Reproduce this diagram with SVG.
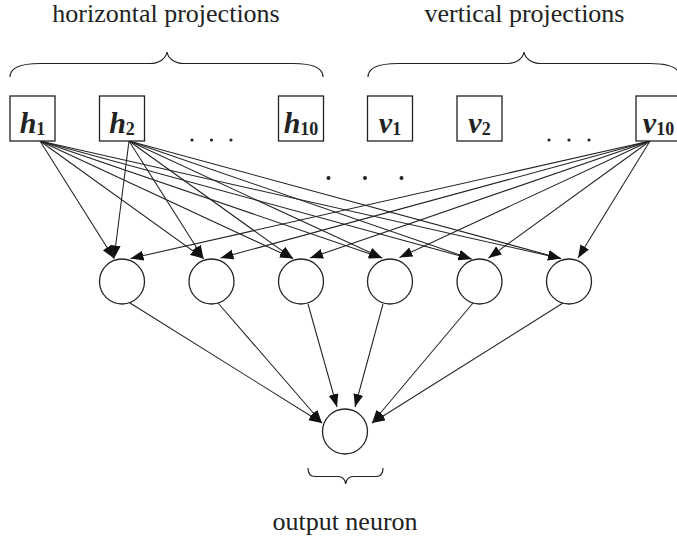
<svg xmlns="http://www.w3.org/2000/svg" width="677" height="538" viewBox="0 0 677 538">
  <style>
    .box { fill: #fff; stroke: #222; stroke-width: 1.3; }
    .neuron { fill: #fff; stroke: #222; stroke-width: 1.3; }
    .edge { stroke: #222; stroke-width: 1.05; fill: none; marker-end: url(#arrow); }
    .brace { fill: none; stroke: #222; stroke-width: 1.2; }
    .title { font-family: "Liberation Serif", "Times New Roman", serif; font-size: 26px; fill: #222; text-anchor: middle; }
    .lbl { font-family: "Liberation Serif", "Times New Roman", serif; fill: #222; text-anchor: middle; font-weight: bold; }
    .var { font-style: italic; font-size: 30px; }
    .sub { font-size: 18px; }
    .dot { fill: #222; }
  </style>
  <defs>
    <marker id="arrow" markerUnits="userSpaceOnUse" markerWidth="14" markerHeight="11" refX="13" refY="5" orient="auto">
      <path d="M0,0 L13,5 L0,10 Z" fill="#111"/>
    </marker>
  </defs>

  <rect width="677" height="538" fill="#fff"/>

  <!-- group titles and braces -->
  <g id="horizontal-group">
    <text class="title" x="166" y="22">horizontal projections</text>
    <path class="brace" d="M10,77 C10,68 20,63.5 40,63.5 L150,63.5 C160,63.5 166,58 167,52 C168,58 174,63.5 184,63.5 L293,63.5 C313,63.5 323,68 323,77"/>
  </g>
  <g id="vertical-group">
    <text class="title" x="524.5" y="22">vertical projections</text>
    <path class="brace" d="M368,77 C368,68 378,63.5 398,63.5 L507,63.5 C517,63.5 523,58 524,52 C525,58 531,63.5 541,63.5 L650,63.5 C670,63.5 680,68 680,77"/>
  </g>

  <!-- connectors -->
  <g id="connectors">
    <!-- h1 to hidden layer -->
    <line class="edge" x1="40" y1="141" x2="114" y2="258.5"/>
    <line class="edge" x1="40" y1="141" x2="203.5" y2="258.5"/>
    <line class="edge" x1="40" y1="141" x2="293" y2="258.5"/>
    <line class="edge" x1="40" y1="141" x2="382" y2="258"/>
    <line class="edge" x1="40" y1="141" x2="471.5" y2="259"/>
    <line class="edge" x1="40" y1="141" x2="561" y2="258.5"/>
    <!-- h2 to hidden layer -->
    <line class="edge" x1="129" y1="141" x2="114" y2="258.5"/>
    <line class="edge" x1="129" y1="141" x2="203.5" y2="258.5"/>
    <line class="edge" x1="129" y1="141" x2="293" y2="258.5"/>
    <line class="edge" x1="129" y1="141" x2="382" y2="258"/>
    <line class="edge" x1="129" y1="141" x2="471.5" y2="259"/>
    <line class="edge" x1="129" y1="141" x2="561" y2="258.5"/>
    <!-- v10 to hidden layer -->
    <line class="edge" x1="650" y1="141" x2="130.5" y2="258.5"/>
    <line class="edge" x1="650" y1="141" x2="220.5" y2="258"/>
    <line class="edge" x1="650" y1="141" x2="310" y2="258"/>
    <line class="edge" x1="650" y1="141" x2="399.5" y2="257.5"/>
    <line class="edge" x1="650" y1="141" x2="488.5" y2="258"/>
    <line class="edge" x1="650" y1="141" x2="578" y2="258"/>
    <!-- hidden layer to output neuron -->
    <line class="edge" x1="130" y1="303" x2="322" y2="423"/>
    <line class="edge" x1="218" y1="303" x2="322" y2="423"/>
    <line class="edge" x1="308" y1="304" x2="337" y2="407"/>
    <line class="edge" x1="383" y1="304" x2="355" y2="407"/>
    <line class="edge" x1="473" y1="303" x2="372" y2="423"/>
    <line class="edge" x1="563" y1="303" x2="372" y2="423"/>
  </g>

  <!-- input nodes -->
  <g id="h1">
    <rect class="box" x="10" y="96" width="45" height="45"/>
    <text class="lbl" x="32.5" y="133"><tspan class="var">h</tspan><tspan class="sub" dy="1.5">1</tspan></text>
  </g>
  <g id="h2">
    <rect class="box" x="99.5" y="96" width="45" height="45"/>
    <text class="lbl" x="122" y="133"><tspan class="var">h</tspan><tspan class="sub" dy="1.5">2</tspan></text>
  </g>
  <g id="h10">
    <rect class="box" x="278.5" y="96" width="45" height="45"/>
    <text class="lbl" x="301" y="133"><tspan class="var">h</tspan><tspan class="sub" dy="1.5">10</tspan></text>
  </g>
  <g id="v1">
    <rect class="box" x="367.5" y="96" width="45" height="45"/>
    <text class="lbl" x="390" y="133"><tspan class="var">v</tspan><tspan class="sub" dy="1.5">1</tspan></text>
  </g>
  <g id="v2">
    <rect class="box" x="457" y="96" width="45" height="45"/>
    <text class="lbl" x="479.5" y="133"><tspan class="var">v</tspan><tspan class="sub" dy="1.5">2</tspan></text>
  </g>
  <g id="v10">
    <rect class="box" x="636" y="96" width="45" height="45"/>
    <text class="lbl" x="658.5" y="133"><tspan class="var">v</tspan><tspan class="sub" dy="1.5">10</tspan></text>
  </g>

  <!-- ellipses -->
  <g id="ellipsis-h">
    <circle class="dot" cx="192" cy="140" r="1.6"/>
    <circle class="dot" cx="211.5" cy="140" r="1.6"/>
    <circle class="dot" cx="231" cy="140" r="1.6"/>
  </g>
  <g id="ellipsis-v">
    <circle class="dot" cx="549" cy="140" r="1.6"/>
    <circle class="dot" cx="569" cy="140" r="1.6"/>
    <circle class="dot" cx="589" cy="140" r="1.6"/>
  </g>
  <g id="ellipsis-mid">
    <circle class="dot" cx="328.5" cy="178" r="2"/>
    <circle class="dot" cx="365" cy="178" r="2"/>
    <circle class="dot" cx="401.5" cy="178" r="2"/>
  </g>

  <!-- hidden layer -->
  <g id="n1"><circle class="neuron" cx="122" cy="281.5" r="22.5"/></g>
  <g id="n2"><circle class="neuron" cx="211.5" cy="281.5" r="22.5"/></g>
  <g id="n3"><circle class="neuron" cx="301" cy="281.5" r="22.5"/></g>
  <g id="n4"><circle class="neuron" cx="390" cy="281.5" r="22.5"/></g>
  <g id="n5"><circle class="neuron" cx="479.5" cy="281.5" r="22.5"/></g>
  <g id="n6"><circle class="neuron" cx="569" cy="281.5" r="22.5"/></g>

  <!-- output -->
  <g id="output">
    <circle class="neuron" cx="345" cy="431.5" r="22.5"/>
    <path class="brace" d="M308,468 C308,474 310,476.5 315,476.5 L338,476.5 C342,476.5 345,479 345.7,484 C346.4,479 349.5,476.5 353.5,476.5 L376,476.5 C381,476.5 383,474 383,468"/>
    <text class="title" x="345" y="530">output neuron</text>
  </g>
</svg>
